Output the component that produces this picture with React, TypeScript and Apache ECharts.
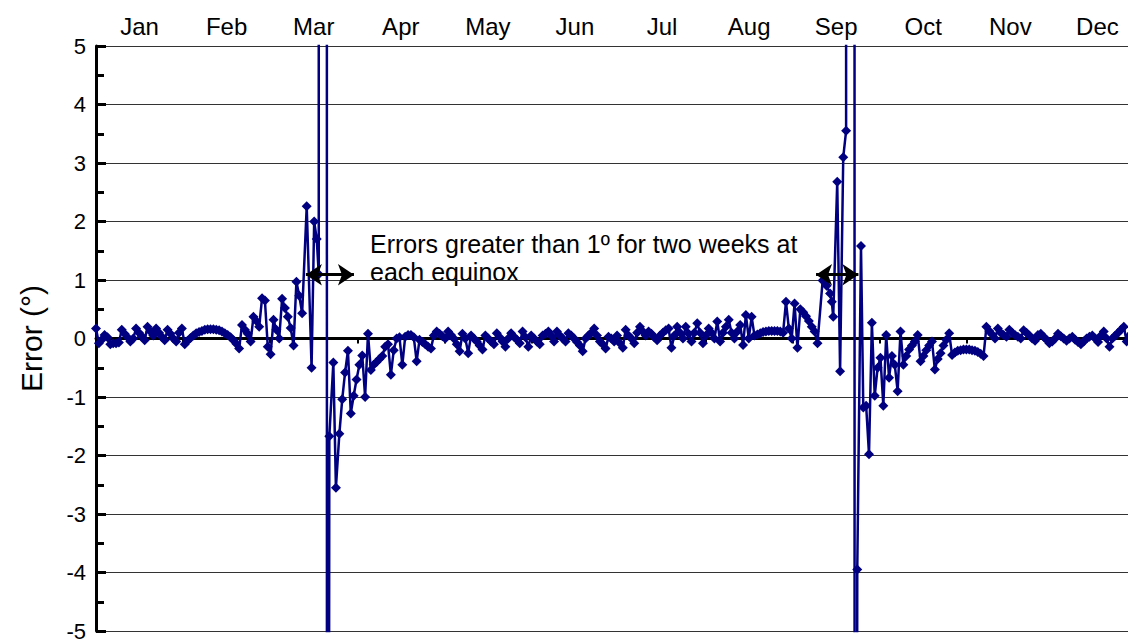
import React, { useEffect, useRef } from "react";
import * as echarts from "echarts";

const FONT = "'Liberation Sans', Arial, sans-serif";

const months = ["Jan", "Feb", "Mar", "Apr", "May", "Jun", "Jul", "Aug", "Sep", "Oct", "Nov", "Dec"];
const daysInYear = 365;
const yMin = -5;
const yMax = 5;
const yStep = 1;

// Daily error (degrees), index = day of year (0 = 1 Jan).
// null = day covered by the equinox point lists below.
const errors: (number | null)[] = [
  0.17, -0.08, -0.02, 0.06, 0.02, -0.1, -0.08, -0.08, -0.07, 0.15,
  0.08, 0.02, -0.05, 0.0, 0.17, 0.1, 0.04, -0.03, 0.2, 0.12,
  0.05, 0.17, 0.1, 0.03, -0.03, 0.15, 0.08, 0.0, -0.05, 0.1,
  0.17, -0.1, -0.04, 0.01, 0.05, 0.09, 0.11, 0.13, 0.15, 0.16,
  0.16, 0.16, 0.15, 0.14, 0.12, 0.09, 0.06, 0.02, -0.03, -0.09,
  -0.17, 0.23, 0.15, 0.08, -0.05, 0.37, 0.3, 0.2, 0.69, 0.65,
  -0.14, -0.27, 0.32, 0.15, 0.0, 0.68, 0.52, 0.37, 0.18, -0.12,
  0.97, 0.73, 0.43, null, null, null, null, null, null, null,
  null, null, null, null, null, null, -1.04, -0.58, -0.21, -1.28,
  -0.98, -0.7, -0.45, -0.29, -1.0, 0.08, -0.54, -0.45, -0.4, -0.35,
  -0.3, -0.14, -0.1, -0.62, -0.2, 0.0, 0.02, -0.45, 0.03, 0.06,
  0.06, 0.02, -0.39, -0.02, -0.06, -0.1, -0.14, -0.17, 0.05, 0.12,
  0.08, 0.04, 0.0, 0.12, 0.06, 0.0, -0.1, -0.22, 0.08, 0.0,
  -0.25, 0.05, 0.0, -0.05, -0.12, -0.19, 0.05, 0.0, -0.05, -0.1,
  0.09, 0.02, -0.05, -0.14, 0.0, 0.09, 0.03, -0.02, -0.08, 0.12,
  0.02, -0.14, 0.05, 0.0, -0.05, -0.1, 0.05, 0.08, 0.12, 0.05,
  -0.05, 0.12, 0.05, 0.0, -0.05, 0.09, 0.05, 0.0, -0.06, -0.12,
  -0.22, 0.0, 0.05, 0.1, 0.17, 0.05, -0.05, -0.1, -0.17, 0.03,
  0.0, -0.05, 0.05, -0.08, -0.16, 0.15, 0.05, 0.0, -0.08, 0.1,
  0.2, 0.12, 0.05, 0.12, 0.08, 0.02, -0.03, 0.05, 0.1, 0.14,
  0.17, -0.16, 0.05, 0.2, 0.1, 0.0, 0.2, 0.08, -0.05, 0.1,
  0.26, 0.1, -0.08, 0.05, 0.17, 0.1, 0.0, 0.29, -0.05, 0.1,
  0.2, 0.32, 0.1, 0.0, 0.12, 0.23, -0.11, 0.4, 0.0, 0.37,
  0.05, 0.07, 0.09, 0.11, 0.12, 0.13, 0.13, 0.13, 0.13, 0.12,
  0.1, 0.63, 0.17, 0.0, 0.6, -0.16, 0.5, 0.45, 0.38, 0.3,
  0.2, 0.12, -0.08, null, null, null, null, null, null, null,
  null, null, null, null, null, null, null, null, null, -1.15,
  -1.98, 0.27, -0.98, -0.5, -0.33, -1.15, 0.06, -0.67, -0.3, -0.45,
  -0.9, 0.12, -0.45, -0.3, -0.19, -0.12, -0.05, 0.06, -0.39, -0.3,
  -0.2, -0.12, -0.05, -0.53, -0.35, -0.25, -0.12, -0.02, 0.09, -0.28,
  -0.24, -0.21, -0.2, -0.19, -0.19, -0.19, -0.2, -0.21, -0.23, -0.26,
  -0.3, 0.2, 0.13, 0.07, 0.0, 0.17, 0.1, 0.06, 0.03, 0.15,
  0.1, 0.06, 0.03, 0.0, 0.14, 0.1, 0.05, 0.0, -0.04, 0.06,
  0.08, 0.03, -0.02, -0.08, -0.05, 0.0, 0.08, 0.04, 0.0, -0.04,
  0.0, 0.03, -0.02, -0.06, -0.1, -0.05, 0.0, 0.03, 0.05, 0.0,
  -0.06, 0.05, 0.12, 0.0, -0.14, 0.0, 0.05, 0.1, 0.15, 0.2,
  -0.05, 0.05, 0.1, 0.0, -0.05,
];

// Points around each equinox, read at their own positions: [day of year, error].
// The very large values are the off-scale excursions (clipped by the plot).
const marchEquinox: [number, number][] = [
  [73.6, 2.26], [75.3, -0.5], [76.2, 2.0], [77.1, 1.7], [77.8, 1.1],
  [78.1, 2000], [80.7, -40], [81.5, -1.67], [82.9, -0.41], [83.8, -2.55], [85.0, -1.63],
];
const septemberEquinox: [number, number][] = [
  [253.8, 0.99], [255.2, 0.9], [256.4, 0.77], [257.0, 0.63], [257.5, 0.37],
  [258.9, 2.68], [259.9, -0.56], [261.0, 3.1], [262.0, 3.55], [262.5, 2000],
  [265.0, -40], [265.9, -3.95], [267.2, 1.58], [268.0, -1.18],
];

// Annotation arrows: [start day, end day] at an error level
const arrowLevel = 1.09;
const marchArrow: [number, number] = [73.3, 90.1];
const septemberArrow: [number, number] = [251.5, 266.3];
const annotationLines = ["Errors greater than 1º for two weeks at", "each equinox"];

function buildData(): [number, number][] {
  const pts: [number, number][] = [];
  errors.forEach((v, i) => {
    if (v !== null) pts.push([i, v]);
  });
  pts.push(...marchEquinox, ...septemberEquinox);
  pts.sort((a, b) => a[0] - b[0]);
  return pts;
}

const CHART_W = 1160;
const CHART_H = 642;

export default function App() {
  const ref = useRef<HTMLDivElement>(null);

  useEffect(() => {
    if (!ref.current) return;
    const chart = echarts.init(ref.current, undefined, { renderer: "svg" });
    const arrowSeg = (a: [number, number]) => [
      { coord: [a[0], arrowLevel] },
      { coord: [a[1], arrowLevel] },
    ];
    chart.setOption({
      animation: false,
      backgroundColor: "#fff",
      textStyle: { fontFamily: FONT },
      grid: { left: 96, right: CHART_W - 1141, top: 46, bottom: 4, containLabel: false },
      xAxis: [
        {
          type: "category",
          data: months,
          position: "top",
          boundaryGap: true,
          axisLine: { show: true, lineStyle: { color: "#000", width: 3 } },
          axisTick: {
            show: true,
            inside: true,
            length: 5,
            interval: 0,
            lineStyle: { color: "#000", width: 2 },
          },
          axisLabel: {
            color: "#000",
            fontSize: 24,
            fontFamily: FONT,
            margin: 8,
            interval: 0,
          },
          splitLine: { show: false },
        },
        { type: "value", min: 0, max: daysInYear, show: false },
      ],
      yAxis: {
        type: "value",
        min: yMin,
        max: yMax,
        interval: yStep,
        name: "Error (°)",
        nameLocation: "middle",
        nameGap: 50,
        nameTextStyle: { fontSize: 30, color: "#000", fontFamily: FONT },
        axisLine: { show: true, onZero: false, lineStyle: { color: "#000", width: 3 } },
        axisTick: { show: true, inside: true, length: 10, lineStyle: { color: "#000", width: 3 } },
        minorTick: { show: true, splitNumber: 2, length: 8, lineStyle: { color: "#000", width: 3 } },
        axisLabel: { color: "#000", fontSize: 22, fontFamily: FONT, margin: 10 },
        splitLine: { show: true, lineStyle: { color: "#333", width: 1 } },
      },
      series: [
        {
          type: "line",
          xAxisIndex: 1,
          data: buildData(),
          symbol: "diamond",
          symbolSize: 10,
          lineStyle: { color: "#000080", width: 2.5 },
          itemStyle: { color: "#000080" },
          emphasis: { disabled: true },
          markLine: {
            silent: true,
            symbol: ["arrow", "arrow"],
            symbolSize: [16, 16],
            label: { show: false },
            emphasis: { disabled: true },
            lineStyle: { color: "#000", width: 3, type: "solid" },
            data: [arrowSeg(marchArrow), arrowSeg(septemberArrow)],
          },
        },
      ],
      graphic: [
        {
          type: "text",
          left: 370,
          top: 230,
          style: {
            text: annotationLines.join("\n"),
            fontSize: 25,
            lineHeight: 28,
            fontFamily: FONT,
            fill: "#000",
          },
        },
      ],
    });
    return () => chart.dispose();
  }, []);

  return (
    <div
      style={{ position: "fixed", left: 0, top: 0, width: 1128, height: 642, overflow: "hidden", background: "#fff" }}
    >
      <div ref={ref} style={{ width: CHART_W, height: CHART_H }} />
    </div>
  );
}
